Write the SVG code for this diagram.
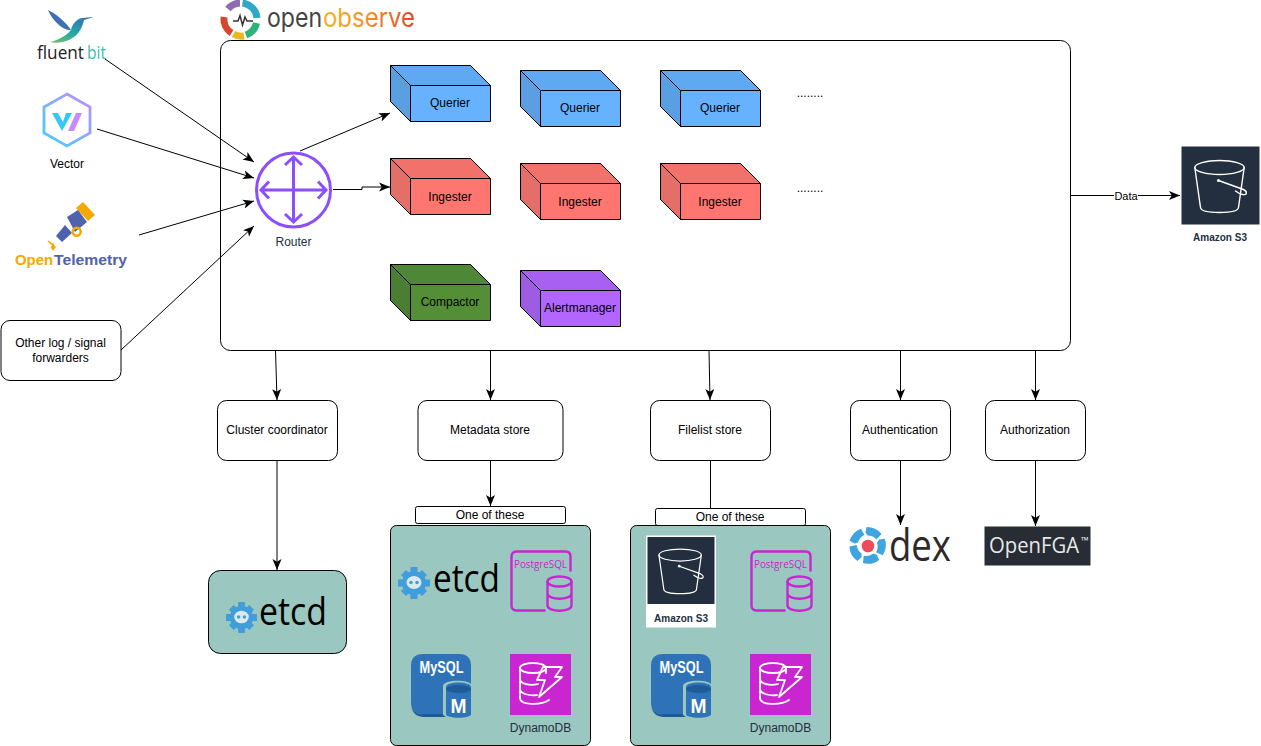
<svg xmlns="http://www.w3.org/2000/svg" width="1261" height="746" viewBox="0 0 1261 746">
<style>
text{font-family:"Liberation Sans",Arial,sans-serif;font-size:12px;fill:#000;text-anchor:middle}
.box{fill:#fff;stroke:#000;stroke-width:1}
.panel{fill:#9AC7BF;stroke:#000;stroke-width:1}
.c{fill:none;stroke:#000;stroke-width:1;marker-end:url(#a)}
.plain{fill:none;stroke:#000;stroke-width:1}
.edge{stroke:#000;stroke-width:1;stroke-linejoin:round}
.ln{fill:none;stroke:#fff;stroke-width:1.4;stroke-linejoin:round;stroke-linecap:round}
.dy{fill:none;stroke:#fff;stroke-width:1.8;stroke-linejoin:round;stroke-linecap:round}
.pg{fill:none;stroke:#C925D1;stroke-width:2.4}
.etcdt{font-family:"Open Sans",sans-serif;font-size:38px;text-anchor:start}
.oo{font-family:"Inter",sans-serif;font-size:26px;text-anchor:start}
.fb{font-family:"Open Sans",sans-serif;font-size:19px;text-anchor:start}
.ot{font-weight:700;font-size:15px;text-anchor:start}
</style>
<defs>
<marker id="a" markerUnits="userSpaceOnUse" markerWidth="12" markerHeight="10" refX="11" refY="5" orient="auto">
<path d="M0 .5L11 5L0 9.500L2.800 5Z" fill="#000"/>
</marker>
<symbol id="bucket" viewBox="0 0 78 78" overflow="visible">
<rect width="78" height="78" fill="#232F3E"/>
<ellipse cx="38" cy="21" rx="24.700" ry="7" class="ln"/>
<path d="M13.300 21L19 61C19.500 64.500 28 66 38 66S56.500 64.500 57 61L62.700 21M37 34L62 43C66 45 66 49 61 48C58 47.500 56 46 54 44.500" class="ln"/>
<circle cx="37" cy="34" r="1.600" fill="#fff"/>
</symbol>
<symbol id="gear" viewBox="0 0 32 32" overflow="visible">
<circle cx="16" cy="16" r="12" fill="#419EDA"/>
<path d="M12.500 0h7v6h-7zM12.500 26h7v6h-7zM0 12.500h6v7H0zM26 12.500h6v7h-6zM3 8l5-5 4 4-5 5zM20 7l4-4 5 5-4 4zM3 24l4-4 5 5-4 4zM20 25l5-5 4 4-5 5z" fill="#419EDA"/>
<ellipse cx="16" cy="15.500" rx="7.500" ry="6.500" fill="#DCE9EE"/>
<circle cx="13" cy="15.500" r="1.800" fill="#419EDA"/><circle cx="19" cy="15.500" r="1.800" fill="#419EDA"/>
</symbol>
<symbol id="pgdb" viewBox="0 0 61 61" overflow="visible">
<path d="M35 60H6Q1 60 1 55V6Q1 1 6 1H55Q60 1 60 6V21" class="pg"/>
<ellipse cx="49" cy="31" rx="12" ry="5" class="pg"/>
<path d="M37 31V55C37 62 61 62 61 55V31M37 43C37 50 61 50 61 43" class="pg"/>
<text x="30" y="17" style="font-family:'Open Sans',sans-serif;font-size:11px;fill:#C925D1" textLength="53" lengthAdjust="spacingAndGlyphs">PostgreSQL</text>
</symbol>
<symbol id="mysql" viewBox="0 0 61 64" overflow="visible">
<path d="M12 0H48Q60 0 60 12V60H12Q0 60 0 48V12Q0 0 12 0Z" fill="#2E73B8"/>
<path d="M0 48Q0 60 12 60H36V63H12Q0 62 0 48Z" fill="#205B99"/>
<path d="M32 32C32 25 61 25 61 32V60C61 66 32 66 32 60Z" fill="#9AC7BF"/>
<path d="M35 33C35 27 60 27 60 33V60C60 65 35 65 35 60Z" fill="#2E73B8"/>
<ellipse cx="47.500" cy="35" rx="12.500" ry="4" fill="#205B99"/>
<text x="30.500" y="19" style="font-weight:700;font-size:16px;fill:#fff" textLength="44" lengthAdjust="spacingAndGlyphs">MySQL</text>
<text x="47.500" y="59" style="font-weight:700;font-size:21px;fill:#fff" textLength="16" lengthAdjust="spacingAndGlyphs">M</text>
</symbol>
<symbol id="dynamo" viewBox="0 0 61 61" overflow="visible">
<rect width="61" height="61" fill="#C925D1"/>
<g class="dy">
<ellipse cx="23" cy="14" rx="13" ry="5"/>
<path d="M10 14V44C10 51 30 52 39 46M10 25C10 30 20 32 28 30M10 35C10 40 20 42 27 41M36 14V19"/>
<path d="M33 13H52L45 23H52L29 43L35 26H27Z"/>
</g>
</symbol>
<linearGradient id="vg" x1="0" y1="1" x2="1" y2="0"><stop offset="0" stop-color="#3ED0FF"/><stop offset="1" stop-color="#C48CFF"/></linearGradient>
<linearGradient id="bird" x1="0" y1="1" x2="1" y2="0"><stop offset="0" stop-color="#7DBF6A"/><stop offset=".45" stop-color="#1FA9A5"/><stop offset="1" stop-color="#3F62B5"/></linearGradient>
<linearGradient id="oog" x1="0" y1="0" x2="1" y2="0"><stop offset="0" stop-color="#F7B021"/><stop offset=".45" stop-color="#F2962A"/><stop offset="1" stop-color="#E0452A"/></linearGradient>
<path id="blade" d="M-1 -18.500A18.500 18.500 0 0 1 14 -11.500L9 -6C7 -8.500 4 -10 0 -10L-2 -13Z" fill="#3FA5E0"/>
</defs>

<g id="main-box"><rect class="box" x="220.500" y="40.500" width="850" height="310" rx="10"/></g>

<g id="logo-openobserve">
<g fill="none" stroke-width="7">
<path d="M228 9A16.500 16.500 0 0 1 240 3" stroke="#8E6BB0"/>
<path d="M242.500 3A16.500 16.500 0 0 1 257 18" stroke="#2FA8C6"/>
<path d="M256.500 23A16.500 16.500 0 0 1 246 35" stroke="#2DB37A"/>
<path d="M244 36A16.500 16.500 0 0 1 233.500 34" stroke="#E8B81E"/>
<path d="M231.500 33A16.500 16.500 0 0 1 224 17" stroke="#D8452E"/>
</g>
<path d="M233 21H238L240 15.500L242.500 25L245 17L247 21H253" fill="none" stroke="#333" stroke-width="1.500"/>
<text class="oo" x="267" y="27" style="fill:#444" textLength="55" lengthAdjust="spacingAndGlyphs">open</text>
<text class="oo" x="323" y="27" style="fill:url(#oog)" textLength="92" lengthAdjust="spacingAndGlyphs">observe</text>
</g>

<g id="fluentbit">
<path d="M48 10C55 13 66 22 71 30C64 31 53 22 48 10Z" fill="#3F6FB5"/>
<path d="M71 30C72 25 76 19 82 18L94 17L84 20C82 30 76 38 66 41C60 43 55 43 50 42C58 40 66 36 71 30Z" fill="url(#bird)"/>
<text class="fb" x="37" y="59" style="fill:#222" textLength="47" lengthAdjust="spacingAndGlyphs">fluent</text>
<text class="fb" x="87" y="59" style="fill:#3CBFA8" textLength="19" lengthAdjust="spacingAndGlyphs">bit</text>
</g>

<g id="vector">
<path d="M67 94L90 107V133L67 146L44 133V107Z" fill="none" stroke="url(#vg)" stroke-width="2.800"/>
<path d="M52 113H58L63 122L66 113H72L62 131Z" fill="#35C8F5"/><path d="M68 131L76 113H82L74 131Z" fill="#C48CFF"/>
<text x="67" y="168">Vector</text>
</g>

<g id="opentelemetry">
<path d="M76 208L83 202L95 215L88 221Z" fill="#F5A800"/>
<path d="M67 217L78 210L87 222L75 232Z" fill="#4F62AD"/>
<path d="M56 236L65 225L72 233L62 242Z" fill="#4F62AD"/>
<circle cx="76.700" cy="231.700" r="4" fill="none" stroke="#F5A800" stroke-width="2.500"/>
<path d="M48 241L55 247L53 249.500L51.500 247.500L54 244" fill="#F5A800" stroke="#F5A800" stroke-width="1.500"/>
<text class="ot" x="15" y="265" style="fill:#F5A800" textLength="38" lengthAdjust="spacingAndGlyphs">Open</text>
<text class="ot" x="54" y="265" style="fill:#4F62AD" textLength="73" lengthAdjust="spacingAndGlyphs">Telemetry</text>
</g>

<g id="other-forwarders"><rect class="box" x="1" y="320.500" width="120" height="60" rx="9"/><text x="60.500" y="347">Other log / signal</text><text x="60.500" y="362">forwarders</text></g>

<g id="router">
<circle cx="293.500" cy="190" r="37" fill="#fff" stroke="#8C4FFF" stroke-width="3"/>
<path d="M293.500 157V222M261 190H326M285 165L293.500 157L302 165M285 214L293.500 222L302 214M269 181.500L261 190L269 198.500M318 181.500L326 190L318 198.500" fill="none" stroke="#8C4FFF" stroke-width="3"/>
<text x="293.500" y="246" style="fill:#232F3E">Router</text>
</g>

<g id="querier-1" transform="translate(390.500 65.500)"><path class="edge" d="M0 0H80L100 20V56H20L0 36Z" fill="#66B2FF"/><path class="edge" d="M0 0H80L100 20H20Z" fill="#5FA9F2"/><path class="edge" d="M0 0L20 20V56L0 36Z" fill="#5B9FE3"/><text x="59.500" y="41">Querier</text></g>
<g id="querier-2" transform="translate(520.500 70.500)"><path class="edge" d="M0 0H80L100 20V56H20L0 36Z" fill="#66B2FF"/><path class="edge" d="M0 0H80L100 20H20Z" fill="#5FA9F2"/><path class="edge" d="M0 0L20 20V56L0 36Z" fill="#5B9FE3"/><text x="59.500" y="41">Querier</text></g>
<g id="querier-3" transform="translate(660.500 70.500)"><path class="edge" d="M0 0H80L100 20V56H20L0 36Z" fill="#66B2FF"/><path class="edge" d="M0 0H80L100 20H20Z" fill="#5FA9F2"/><path class="edge" d="M0 0L20 20V56L0 36Z" fill="#5B9FE3"/><text x="59.500" y="41">Querier</text></g>
<g id="ingester-1" transform="translate(390.500 158.500)"><path class="edge" d="M0 0H80L100 20V56H20L0 36Z" fill="#FF7570"/><path class="edge" d="M0 0H80L100 20H20Z" fill="#F2716B"/><path class="edge" d="M0 0L20 20V56L0 36Z" fill="#E36F68"/><text x="59.500" y="42">Ingester</text></g>
<g id="ingester-2" transform="translate(520.500 163.500)"><path class="edge" d="M0 0H80L100 20V56H20L0 36Z" fill="#FF7570"/><path class="edge" d="M0 0H80L100 20H20Z" fill="#F2716B"/><path class="edge" d="M0 0L20 20V56L0 36Z" fill="#E36F68"/><text x="59.500" y="42">Ingester</text></g>
<g id="ingester-3" transform="translate(660.500 163.500)"><path class="edge" d="M0 0H80L100 20V56H20L0 36Z" fill="#FF7570"/><path class="edge" d="M0 0H80L100 20H20Z" fill="#F2716B"/><path class="edge" d="M0 0L20 20V56L0 36Z" fill="#E36F68"/><text x="59.500" y="42">Ingester</text></g>
<g id="compactor" transform="translate(390.500 264.500)"><path class="edge" d="M0 0H80L100 20V56H20L0 36Z" fill="#548F38"/><path class="edge" d="M0 0H80L100 20H20Z" fill="#4E8735"/><path class="edge" d="M0 0L20 20V56L0 36Z" fill="#4A7E32"/><text x="59.500" y="41">Compactor</text></g>
<g id="alertmanager" transform="translate(520.500 270.500)"><path class="edge" d="M0 0H80L100 20V56H20L0 36Z" fill="#B266FF"/><path class="edge" d="M0 0H80L100 20H20Z" fill="#A860F2"/><path class="edge" d="M0 0L20 20V56L0 36Z" fill="#9E5CE3"/><text x="59.500" y="41">Alertmanager</text></g>

<text x="810" y="97">........</text>
<text x="810" y="192">........</text>

<g id="s3">
<use href="#bucket" x="1181.500" y="146.500" width="78" height="78"/>
<text x="1220" y="241" style="font-weight:700;font-size:10px;fill:#232F3E">Amazon S3</text>
</g>

<g id="cluster-coordinator"><rect class="box" x="217.500" y="400.500" width="120" height="60" rx="9"/><text x="277" y="434">Cluster coordinator</text></g>
<g id="metadata-store"><rect class="box" x="418" y="400.500" width="145" height="60" rx="9"/><text x="490" y="434">Metadata store</text></g>
<g id="filelist-store"><rect class="box" x="650.500" y="400.500" width="120" height="60" rx="9"/><text x="710" y="434">Filelist store</text></g>
<g id="authentication"><rect class="box" x="850.500" y="400.500" width="100" height="60" rx="9"/><text x="900" y="434">Authentication</text></g>
<g id="authorization"><rect class="box" x="985.500" y="400.500" width="100" height="60" rx="9"/><text x="1035" y="434">Authorization</text></g>

<g id="etcd-cluster"><rect class="panel" x="208.500" y="570.500" width="138" height="83" rx="12"/>
<use href="#gear" x="226" y="602" width="31" height="31"/>
<text class="etcdt" x="259" y="625" textLength="68" lengthAdjust="spacingAndGlyphs">etcd</text></g>

<g id="metadata-options">
<rect class="box" x="415.500" y="506.500" width="150" height="17" rx="2"/><text x="490" y="519">One of these</text>
<rect class="panel" x="390.500" y="525.500" width="200" height="220" rx="6"/>
<use href="#gear" x="398" y="567" width="32" height="32"/>
<text class="etcdt" x="433" y="592" textLength="67" lengthAdjust="spacingAndGlyphs">etcd</text>
<use href="#pgdb" x="510.500" y="550.500" width="61" height="61"/>
<use href="#mysql" x="411" y="654" width="61" height="64"/>
<use href="#dynamo" x="510" y="654" width="61" height="61"/>
<text x="540.500" y="732" style="fill:#232F3E">DynamoDB</text>
</g>

<g id="filelist-options">
<rect class="box" x="655.500" y="508.500" width="150" height="17" rx="2"/><text x="730" y="521">One of these</text>
<rect class="panel" x="630.500" y="525.500" width="200" height="220" rx="6"/>
<rect x="646" y="535.500" width="70" height="92" fill="#fff"/>
<use href="#bucket" x="647" y="537" width="68" height="67"/>
<text x="681" y="622" style="font-weight:700;font-size:10px;fill:#232F3E">Amazon S3</text>
<use href="#pgdb" x="750.500" y="550.500" width="61" height="61"/>
<use href="#mysql" x="651" y="654" width="61" height="64"/>
<use href="#dynamo" x="750" y="654" width="61" height="61"/>
<text x="780.500" y="732" style="fill:#232F3E">DynamoDB</text>
</g>

<g id="dex">
<g transform="translate(867.500 545.500)">
<use href="#blade"/><use href="#blade" transform="rotate(72)"/><use href="#blade" transform="rotate(144)"/><use href="#blade" transform="rotate(216)"/><use href="#blade" transform="rotate(288)"/>
</g>
<circle cx="868" cy="546" r="6.300" fill="#EC4C5C"/>
<text x="889" y="560.500" style="font-family:'Open Sans',sans-serif;font-size:43px;fill:#2D2929;text-anchor:start" textLength="62" lengthAdjust="spacingAndGlyphs">dex</text>
</g>

<g id="openfga"><rect x="984.500" y="526.500" width="106" height="39" fill="#272C35"/>
<text x="989" y="553" style="font-family:'Open Sans',sans-serif;font-size:21px;fill:#E8E8E8;text-anchor:start" textLength="90" lengthAdjust="spacingAndGlyphs">OpenFGA</text>
<text x="1081" y="544" style="font-family:'Open Sans',sans-serif;font-size:10px;fill:#E8E8E8;text-anchor:start">™</text></g>

<g id="connectors">
<path class="c" d="M105 59L254 162"/>
<path class="c" d="M97 129L254 178"/>
<path class="c" d="M139 235L254 201"/>
<path class="c" d="M121 350L254 226"/>
<path class="c" d="M300 151L390 113"/>
<path class="c" d="M333 189.500H362V187H390"/>
<path class="c" d="M1071 195.500H1180"/>
<rect x="1114" y="189" width="24" height="13" fill="#fff"/>
<text x="1126" y="199.500" style="font-size:11px">Data</text>
<path class="c" d="M275.500 350.500L277 400"/>
<path class="c" d="M490.500 350.500V400"/>
<path class="c" d="M709 350.500L710 400"/>
<path class="c" d="M900.500 350.500V400"/>
<path class="c" d="M1035.500 350.500V400"/>
<path class="c" d="M277 460.500V570"/>
<path class="c" d="M490.500 460.500V506"/>
<path class="plain" d="M710.500 460.500V508"/>
<path class="c" d="M900.500 460.500V525"/>
<path class="c" d="M1035.500 460.500V526"/>
</g>
</svg>
